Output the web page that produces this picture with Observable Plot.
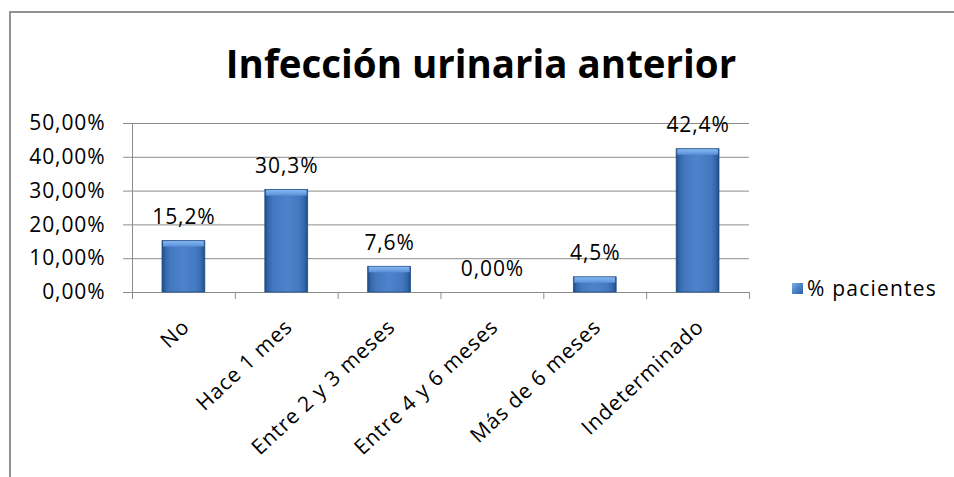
<!DOCTYPE html>
<html>
<head>
<meta charset="utf-8">
<script src="https://cdn.jsdelivr.net/npm/d3@7"></script>
<script src="https://cdn.jsdelivr.net/npm/@observablehq/plot@0.6"></script>
<style>
  body { margin: 0; background: #fff; font-family: "Open Sans", sans-serif; }
  #wrap { position: relative; width: 954px; height: 477px; overflow: hidden; }
  #frame { position: absolute; left: 9px; top: 11px; width: 980px; height: 500px;
           border-top: 2px solid #929292; border-left: 2px solid #929292; }
  #title { position: absolute; left: 0; top: 43px; width: 962px; text-align: center;
           font-weight: bold; font-size: 38.5px; line-height: 40px; color: #000; white-space: nowrap; }
  #chart { position: absolute; left: 0; top: 0; }
  #legend-swatch { position: absolute; left: 792px; top: 283px; width: 11px; height: 11px;
           background: linear-gradient(135deg, #7fb0ee 0%, #4f86cc 45%, #2d5e9e 100%); }
  #legend-text { position: absolute; left: 807px; top: 276px; font-size: 21px; line-height: 24px;
           letter-spacing: 1.2px; color: #000; white-space: nowrap; }
</style>
</head>
<body>
<div id="wrap">
  <div id="frame"></div>
  <div id="chart"></div>
  <div id="title"></div>
  <div id="legend-swatch"></div>
  <div id="legend-text"></div>
</div>
<script>
const titleText = "Infección urinaria anterior";
const seriesName = "% pacientes";
const categories = ["No", "Hace 1 mes", "Entre 2 y 3 meses", "Entre 4 y 6 meses", "Más de 6 meses", "Indeterminado"];
const values = [0.152, 0.303, 0.076, 0.0, 0.045, 0.424];
const valueLabels = ["15,2%", "30,3%", "7,6%", "0,00%", "4,5%", "42,4%"];
const yTicks = [0, 0.1, 0.2, 0.3, 0.4, 0.5];
const yTickLabels = ["0,00%", "10,00%", "20,00%", "30,00%", "40,00%", "50,00%"];

document.getElementById("title").textContent = titleText;
document.getElementById("legend-text").textContent = seriesName;

const data = categories.map((c, i) => ({ i, category: c, value: values[i], label: valueLabels[i] }));
const boundaries = d3.range(categories.length + 1);
const gridColor = "#8c8c8c";

const plot = Plot.plot({
  width: 954,
  height: 477,
  marginLeft: 132,
  marginRight: 205,
  marginTop: 123,
  marginBottom: 185,
  style: { fontFamily: "Open Sans, sans-serif", fontSize: "21px", letterSpacing: "0.9px", color: "#000", background: "transparent" },
  x: { type: "linear", domain: [0, categories.length] },
  y: { domain: [0, 0.5] },
  marks: [
    Plot.ruleY(yTicks, { stroke: gridColor, strokeWidth: 1 }),
    Plot.ruleX([0], { y1: 0, y2: 0.5, stroke: gridColor }),
    Plot.axisY({ ticks: yTicks, tickFormat: d => yTickLabels[yTicks.indexOf(d)], tickSize: 9, tickPadding: 18,
                 stroke: gridColor, fill: "#000", label: null, fontSize: 21 }),
    Plot.axisX({ ticks: boundaries, tickFormat: () => "", tickSize: 7, stroke: gridColor, label: null }),
    Plot.rectY(data, { x1: "i", x2: d => d.i + 1, y: "value", insetLeft: 30, insetRight: 30,
                       fill: "url(#barBody)", stroke: "#24508a", strokeWidth: 0.8 }),
    Plot.rectY(data.filter(d => d.value > 0), { x1: "i", x2: d => d.i + 1, y1: "value", y2: "value",
                       insetLeft: 31, insetRight: 31, insetTop: 0.5, insetBottom: -6, fill: "url(#barTop)" }),
    Plot.text(data, { x: d => d.i + 0.5, y: "value", text: "label", lineAnchor: "bottom", dy: -17, fill: "#000", fontSize: 21 }),
    Plot.text(data, { x: d => d.i + 0.5, y: 0, text: "category", rotate: -43, textAnchor: "end",
                      lineAnchor: "bottom", dx: 7, dy: 36, fill: "#000", fontSize: 21 })
  ]
});

const svgSel = d3.select(plot);
const defs = svgSel.insert("defs", ":first-child");
const bodyGrad = defs.append("linearGradient").attr("id", "barBody").attr("x1", "0").attr("x2", "1").attr("y1", "0").attr("y2", "0");
[["0%", "#1f4a82"], ["8%", "#3468ac"], ["20%", "#4479c0"], ["50%", "#4c83ca"], ["80%", "#4479c0"], ["92%", "#3468ac"], ["100%", "#1f4a82"]]
  .forEach(([o, c]) => bodyGrad.append("stop").attr("offset", o).attr("stop-color", c));
const topGrad = defs.append("linearGradient").attr("id", "barTop").attr("x1", "0").attr("x2", "0").attr("y1", "0").attr("y2", "1");
[["0%", "#86b8f2"], ["100%", "#5890d8"]]
  .forEach(([o, c]) => topGrad.append("stop").attr("offset", o).attr("stop-color", c));

document.getElementById("chart").appendChild(plot);
</script>
</body>
</html>
